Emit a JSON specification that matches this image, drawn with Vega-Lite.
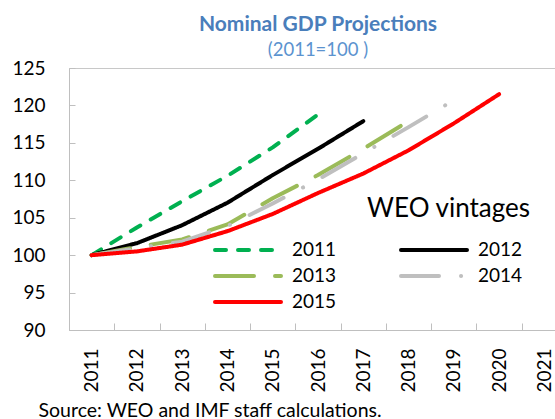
{
  "$schema": "https://vega.github.io/schema/vega-lite/v6.json",
  "width": 486,
  "height": 262,
  "autosize": {"type": "none"},
  "padding": {"left": 69, "top": 68, "right": 0, "bottom": 89},
  "background": "white",
  "config": {
    "font": "Lato",
    "view": {"stroke": "#C8C8C8", "strokeWidth": 1}
  },
  "title": {
    "text": "Nominal GDP Projections",
    "subtitle": "(2011=100 )",
    "anchor": "middle",
    "dx": 6,
    "offset": 0,
    "font": "Lato",
    "fontSize": 21,
    "fontWeight": "bold",
    "color": "#4A7EBB",
    "subtitleFont": "Lato",
    "subtitleFontSize": 18.5,
    "subtitleColor": "#5B93CF",
    "subtitlePadding": 6
  },
  "data": {
    "values": [
      {"vintage": "2011", "year": "2011", "value": 100},
      {"vintage": "2011", "year": "2012", "value": 103.7},
      {"vintage": "2011", "year": "2013", "value": 107.2},
      {"vintage": "2011", "year": "2014", "value": 110.6},
      {"vintage": "2011", "year": "2015", "value": 114.4},
      {"vintage": "2011", "year": "2016", "value": 118.8},
      {"vintage": "2012", "year": "2011", "value": 100},
      {"vintage": "2012", "year": "2012", "value": 101.6},
      {"vintage": "2012", "year": "2013", "value": 104.0},
      {"vintage": "2012", "year": "2014", "value": 107.0},
      {"vintage": "2012", "year": "2015", "value": 110.7},
      {"vintage": "2012", "year": "2016", "value": 114.2},
      {"vintage": "2012", "year": "2017", "value": 117.9},
      {"vintage": "2013", "year": "2011", "value": 100},
      {"vintage": "2013", "year": "2012", "value": 101.1},
      {"vintage": "2013", "year": "2013", "value": 102.1},
      {"vintage": "2013", "year": "2014", "value": 104.1},
      {"vintage": "2013", "year": "2015", "value": 107.6},
      {"vintage": "2013", "year": "2016", "value": 110.7},
      {"vintage": "2013", "year": "2017", "value": 114.2},
      {"vintage": "2013", "year": "2018", "value": 117.9},
      {"vintage": "2014", "year": "2011", "value": 100},
      {"vintage": "2014", "year": "2012", "value": 100.9},
      {"vintage": "2014", "year": "2013", "value": 101.8},
      {"vintage": "2014", "year": "2014", "value": 103.9},
      {"vintage": "2014", "year": "2015", "value": 106.9},
      {"vintage": "2014", "year": "2016", "value": 110.1},
      {"vintage": "2014", "year": "2017", "value": 113.6},
      {"vintage": "2014", "year": "2018", "value": 117.1},
      {"vintage": "2014", "year": "2019", "value": 120.7},
      {"vintage": "2015", "year": "2011", "value": 100},
      {"vintage": "2015", "year": "2012", "value": 100.5},
      {"vintage": "2015", "year": "2013", "value": 101.4},
      {"vintage": "2015", "year": "2014", "value": 103.2},
      {"vintage": "2015", "year": "2015", "value": 105.5},
      {"vintage": "2015", "year": "2016", "value": 108.3},
      {"vintage": "2015", "year": "2017", "value": 110.9},
      {"vintage": "2015", "year": "2018", "value": 114.0},
      {"vintage": "2015", "year": "2019", "value": 117.6},
      {"vintage": "2015", "year": "2020", "value": 121.5}
    ]
  },
  "mark": {"type": "line", "strokeWidth": 4, "strokeCap": "round", "strokeJoin": "round"},
  "encoding": {
    "x": {
      "field": "year",
      "type": "ordinal",
      "bandPosition": 0.5,
      "scale": {
        "type": "band",
        "domain": ["2011", "2012", "2013", "2014", "2015", "2016", "2017", "2018", "2019", "2020", "2021"],
        "range": [0, 498],
        "paddingInner": 0,
        "paddingOuter": 0
      },
      "axis": {
        "tickBand": "extent",
        "tickSize": -7,
        "tickColor": "#BFBFBF",
        "domainColor": "#BFBFBF",
        "labelAngle": -90,
        "labelAlign": "right",
        "labelBaseline": "middle",
        "labelPadding": 25,
        "labelFont": "Lato",
        "labelFontSize": 19,
        "labelColor": "black",
        "grid": false,
        "title": "Source: WEO and IMF staff calculations.",
        "titleFont": "Lato",
        "titleFontSize": 19.5,
        "titleFontWeight": "normal",
        "titleColor": "black",
        "titleAnchor": "start",
        "titleAlign": "left",
        "titleBaseline": "alphabetic",
        "titleX": -31,
        "titleY": 86
      }
    },
    "y": {
      "field": "value",
      "type": "quantitative",
      "scale": {"domain": [90, 125], "nice": false, "zero": false},
      "axis": {
        "values": [90, 95, 100, 105, 110, 115, 120, 125],
        "tickSize": -6,
        "tickColor": "#BFBFBF",
        "domainColor": "#BFBFBF",
        "labelPadding": 30,
        "labelFont": "Lato",
        "labelFontSize": 19,
        "labelColor": "black",
        "grid": false,
        "title": null
      }
    },
    "color": {
      "field": "vintage",
      "type": "nominal",
      "scale": {
        "domain": ["2011", "2012", "2013", "2014", "2015"],
        "range": ["#00B050", "#000000", "#9BBB59", "#BFBFBF", "#FF0000"]
      },
      "legend": {
        "orient": "none",
        "legendX": 144,
        "legendY": 128,
        "columns": 2,
        "direction": "horizontal",
        "title": "WEO vintages",
        "titleFont": "Lato",
        "titleFontSize": 26,
        "titleFontWeight": "normal",
        "titleColor": "black",
        "titleAnchor": "end",
        "titlePadding": 16,
        "labelFont": "Lato",
        "labelFontSize": 19,
        "labelColor": "black",
        "labelOffset": 55,
        "symbolType": "M-1,0H5.6",
        "symbolSize": 400,
        "symbolStrokeWidth": 4,
        "columnPadding": 56,
        "rowPadding": 4,
        "encode": {
          "symbols": {"update": {"strokeCap": {"value": "round"}}},
          "title": {"update": {"dx": {"value": 8}}}
        }
      }
    },
    "strokeDash": {
      "field": "vintage",
      "type": "nominal",
      "scale": {
        "domain": ["2011", "2012", "2013", "2014", "2015"],
        "range": [[11, 12], [1, 0], [39, 21], [38, 22, 0.1, 22], [1, 0]]
      },
      "legend": {
        "orient": "none",
        "legendX": 144,
        "legendY": 128,
        "columns": 2,
        "direction": "horizontal",
        "title": "WEO vintages",
        "titleFont": "Lato",
        "titleFontSize": 26,
        "titleFontWeight": "normal",
        "titleColor": "black",
        "titleAnchor": "end",
        "titlePadding": 16,
        "labelFont": "Lato",
        "labelFontSize": 19,
        "labelColor": "black",
        "labelOffset": 55,
        "symbolType": "M-1,0H5.6",
        "symbolSize": 400,
        "symbolStrokeWidth": 4,
        "columnPadding": 56,
        "rowPadding": 4,
        "encode": {
          "symbols": {"update": {"strokeCap": {"value": "round"}}},
          "title": {"update": {"dx": {"value": 8}}}
        }
      }
    }
  }
}
